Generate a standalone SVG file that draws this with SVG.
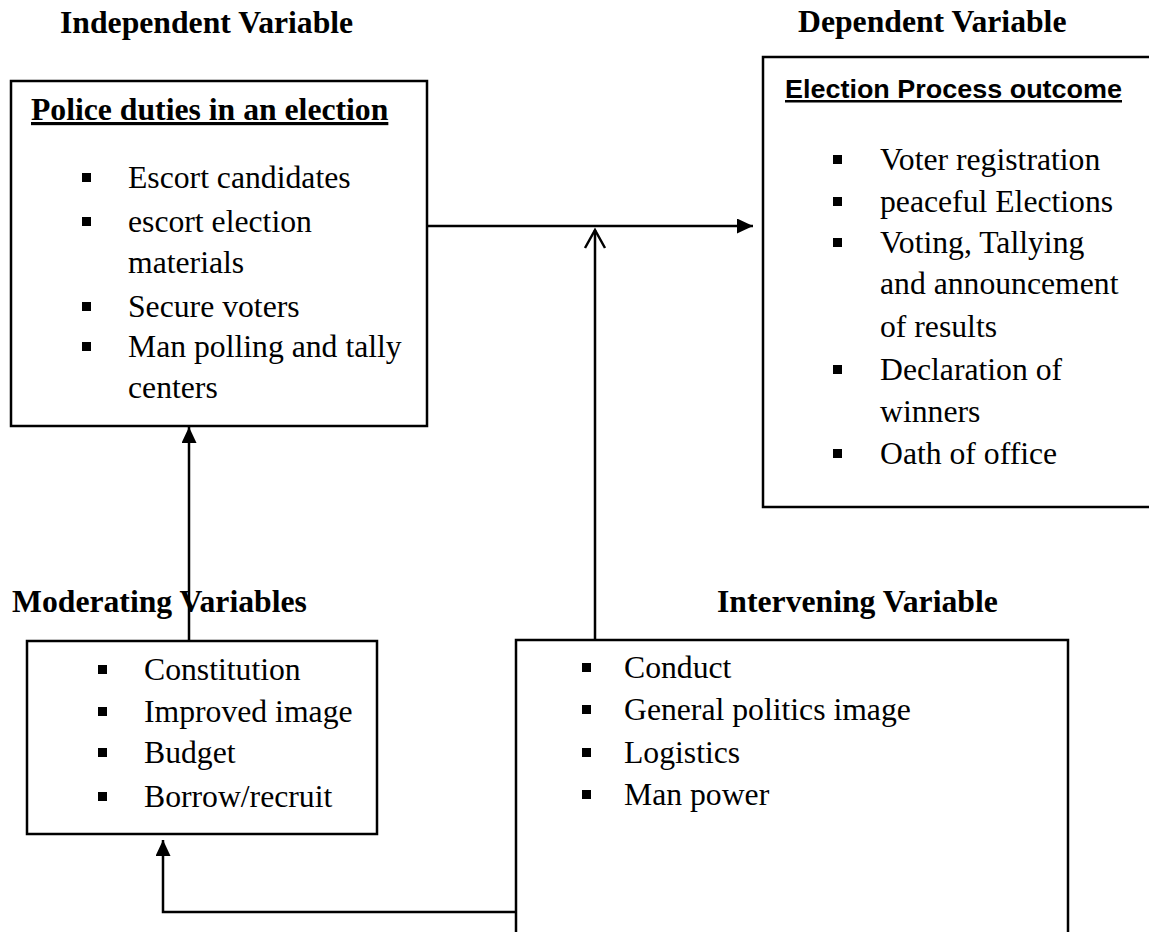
<svg xmlns="http://www.w3.org/2000/svg" width="1149" height="932" viewBox="0 0 1149 932">
<style>
  .box { fill: #fff; stroke: #000; stroke-width: 2.5; }
  .hd { font-family: "Liberation Serif", "Times New Roman", serif; font-weight: bold; font-size: 31.7px; fill: #000; }
  .it { font-family: "Liberation Serif", "Times New Roman", serif; font-size: 31.7px; fill: #000; }
  .ul { text-decoration: underline; }
  .sans { font-family: "Liberation Sans", Arial, sans-serif; font-weight: bold; font-size: 25px; fill: #000; }
  .bl { fill: #000; }
  .cn { fill: none; stroke: #000; stroke-width: 2.5; }
</style>
<defs>
  <marker id="ah" markerUnits="userSpaceOnUse" markerWidth="17" markerHeight="16" refX="16" refY="7.5" orient="auto">
    <path d="M0,0 L16,7.5 L0,15 z" fill="#000"/>
  </marker>
</defs>
<rect width="1149" height="932" fill="#fff"/>

<text class="hd" x="60" y="33">Independent Variable</text>
<text class="hd" x="798" y="32">Dependent Variable</text>

<g id="police">
  <rect class="box" x="11" y="81" width="416" height="345"/>
  <text class="hd ul" x="31" y="120">Police duties in an election</text>
  <rect class="bl" x="82" y="173" width="9" height="9"/>
  <text class="it" x="128" y="188">Escort candidates</text>
  <rect class="bl" x="82" y="217" width="9" height="9"/>
  <text class="it" x="128" y="232">escort election</text>
  <text class="it" x="128" y="273">materials</text>
  <rect class="bl" x="82" y="302" width="9" height="9"/>
  <text class="it" x="128" y="317">Secure voters</text>
  <rect class="bl" x="82" y="342" width="9" height="9"/>
  <text class="it" x="128" y="357">Man polling and tally</text>
  <text class="it" x="128" y="398">centers</text>
</g>

<g id="outcome">
  <rect class="box" x="763" y="57" width="420" height="450"/>
  <text class="sans ul" x="785" y="98" textLength="337" lengthAdjust="spacingAndGlyphs">Election Process outcome</text>
  <rect class="bl" x="833" y="155" width="9" height="9"/>
  <text class="it" x="880" y="170">Voter registration</text>
  <rect class="bl" x="833" y="197" width="9" height="9"/>
  <text class="it" x="880" y="212">peaceful Elections</text>
  <rect class="bl" x="833" y="238" width="9" height="9"/>
  <text class="it" x="880" y="253">Voting, Tallying</text>
  <text class="it" x="880" y="294">and announcement</text>
  <text class="it" x="880" y="337">of results</text>
  <rect class="bl" x="833" y="365" width="9" height="9"/>
  <text class="it" x="880" y="380">Declaration of</text>
  <text class="it" x="880" y="422">winners</text>
  <rect class="bl" x="833" y="449" width="9" height="9"/>
  <text class="it" x="880" y="464">Oath of office</text>
</g>

<g id="moderating">
  <text class="hd" x="12" y="612">Moderating Variables</text>
  <rect class="box" x="27" y="641" width="350" height="193"/>
  <rect class="bl" x="98" y="665" width="9" height="9"/>
  <text class="it" x="144" y="680">Constitution</text>
  <rect class="bl" x="98" y="707" width="9" height="9"/>
  <text class="it" x="144" y="722">Improved image</text>
  <rect class="bl" x="98" y="748" width="9" height="9"/>
  <text class="it" x="144" y="763">Budget</text>
  <rect class="bl" x="98" y="792" width="9" height="9"/>
  <text class="it" x="144" y="807">Borrow/recruit</text>
</g>

<g id="intervening">
  <text class="hd" x="717" y="612">Intervening Variable</text>
  <rect class="box" x="516" y="640" width="552" height="320"/>
  <rect class="bl" x="582" y="663" width="9" height="9"/>
  <text class="it" x="624" y="678">Conduct</text>
  <rect class="bl" x="582" y="705" width="9" height="9"/>
  <text class="it" x="624" y="720">General politics image</text>
  <rect class="bl" x="582" y="748" width="9" height="9"/>
  <text class="it" x="624" y="763">Logistics</text>
  <rect class="bl" x="582" y="790" width="9" height="9"/>
  <text class="it" x="624" y="805">Man power</text>
</g>

<g id="connectors">
  <line class="cn" x1="427" y1="226" x2="753" y2="226" marker-end="url(#ah)"/>
  <line class="cn" x1="595" y1="640" x2="595" y2="230"/>
  <polyline class="cn" points="585,248 595,230 605,248"/>
  <line class="cn" x1="189" y1="641" x2="189" y2="427" marker-end="url(#ah)"/>
  <polyline class="cn" points="516,912 163,912 163,840" marker-end="url(#ah)"/>
</g>
</svg>
